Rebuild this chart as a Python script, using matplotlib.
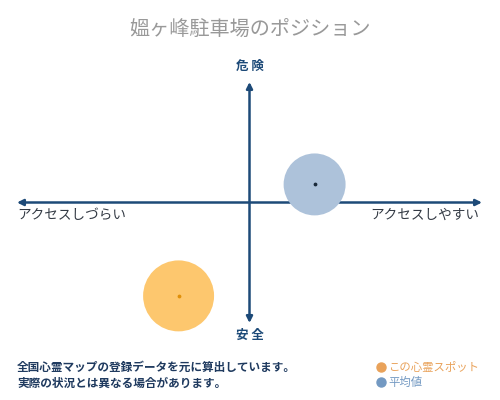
import matplotlib.pyplot as plt
from matplotlib.lines import Line2D

plt.rcParams['font.family'] = ['Noto Sans CJK JP', 'DejaVu Sans']

# chart data (position on the access / danger plane, -1 .. 1)
title = "媼ヶ峰駐車場のポジション"
names = ["この心霊スポット", "平均値"]
access = [-0.305, 0.28]     # -1 = hard to access, +1 = easy
danger = [-0.775, 0.15]     # -1 = safe, +1 = dangerous
sizes = [2611, 1990]        # marker area (pt^2)
note_lines = ["全国心霊マップの登録データを元に算出しています。",
              "実際の状況とは異なる場合があります。"]

W, H = 500, 400
navy = '#1d4a78'
fill_colors = ['#fdc76e', '#adc2da']
dot_colors = ['#e0900a', '#1a2a3a']
legend_colors = ['#e9a25a', '#7399c2']


def px(x, y):
    # pixel position (from top-left) -> figure fraction
    return x / W, 1 - y / H


fig = plt.figure(figsize=(5, 4), dpi=100)
ax = fig.add_axes([17 / W, 1 - 323 / H, 465 / W, 241 / H])
ax.set_xlim(-1, 1)
ax.set_ylim(-1, 1)
ax.axis('off')

arrow = dict(arrowstyle='<|-|>', color=navy, lw=1.8,
             mutation_scale=9, shrinkA=0, shrinkB=0)
ax.annotate('', xy=(1, 0), xytext=(-1, 0), arrowprops=arrow)
ax.annotate('', xy=(0, 1), xytext=(0, -1), arrowprops=arrow)

for i in range(len(names)):
    ax.scatter(access[i], danger[i], s=sizes[i], color=fill_colors[i],
               edgecolors='none', zorder=3, clip_on=False)
    ax.scatter(access[i], danger[i], s=3, color=dot_colors[i], zorder=4,
               clip_on=False)

fig.text(*px(250, 29), title, ha='center', va='center',
         fontsize=14.5, color='#999999')
fig.text(*px(250, 66), "危 険", ha='center', va='center',
         fontsize=9, color=navy, fontweight='bold')
fig.text(*px(250, 335), "安 全", ha='center', va='center',
         fontsize=9, color=navy, fontweight='bold')
fig.text(*px(17, 215), "アクセスしづらい", ha='left', va='center',
         fontsize=9.8, color='#333a44')
fig.text(*px(479, 215), "アクセスしやすい", ha='right', va='center',
         fontsize=9.8, color='#333a44')

for k, line in enumerate(note_lines):
    fig.text(*px(17, 367 + 16 * k), line, ha='left', va='center',
             fontsize=8.4, color='#1f3a5f', fontweight='bold')

for k, name in enumerate(names):
    y = 367 + 15 * k
    fig.add_artist(Line2D([381 / W], [1 - y / H], marker='o', markersize=6.5,
                          color=legend_colors[k], transform=fig.transFigure))
    fig.text(*px(388, y), name, ha='left', va='center',
             fontsize=8.2, color=legend_colors[k])

fig.savefig('out.png', dpi=100)
